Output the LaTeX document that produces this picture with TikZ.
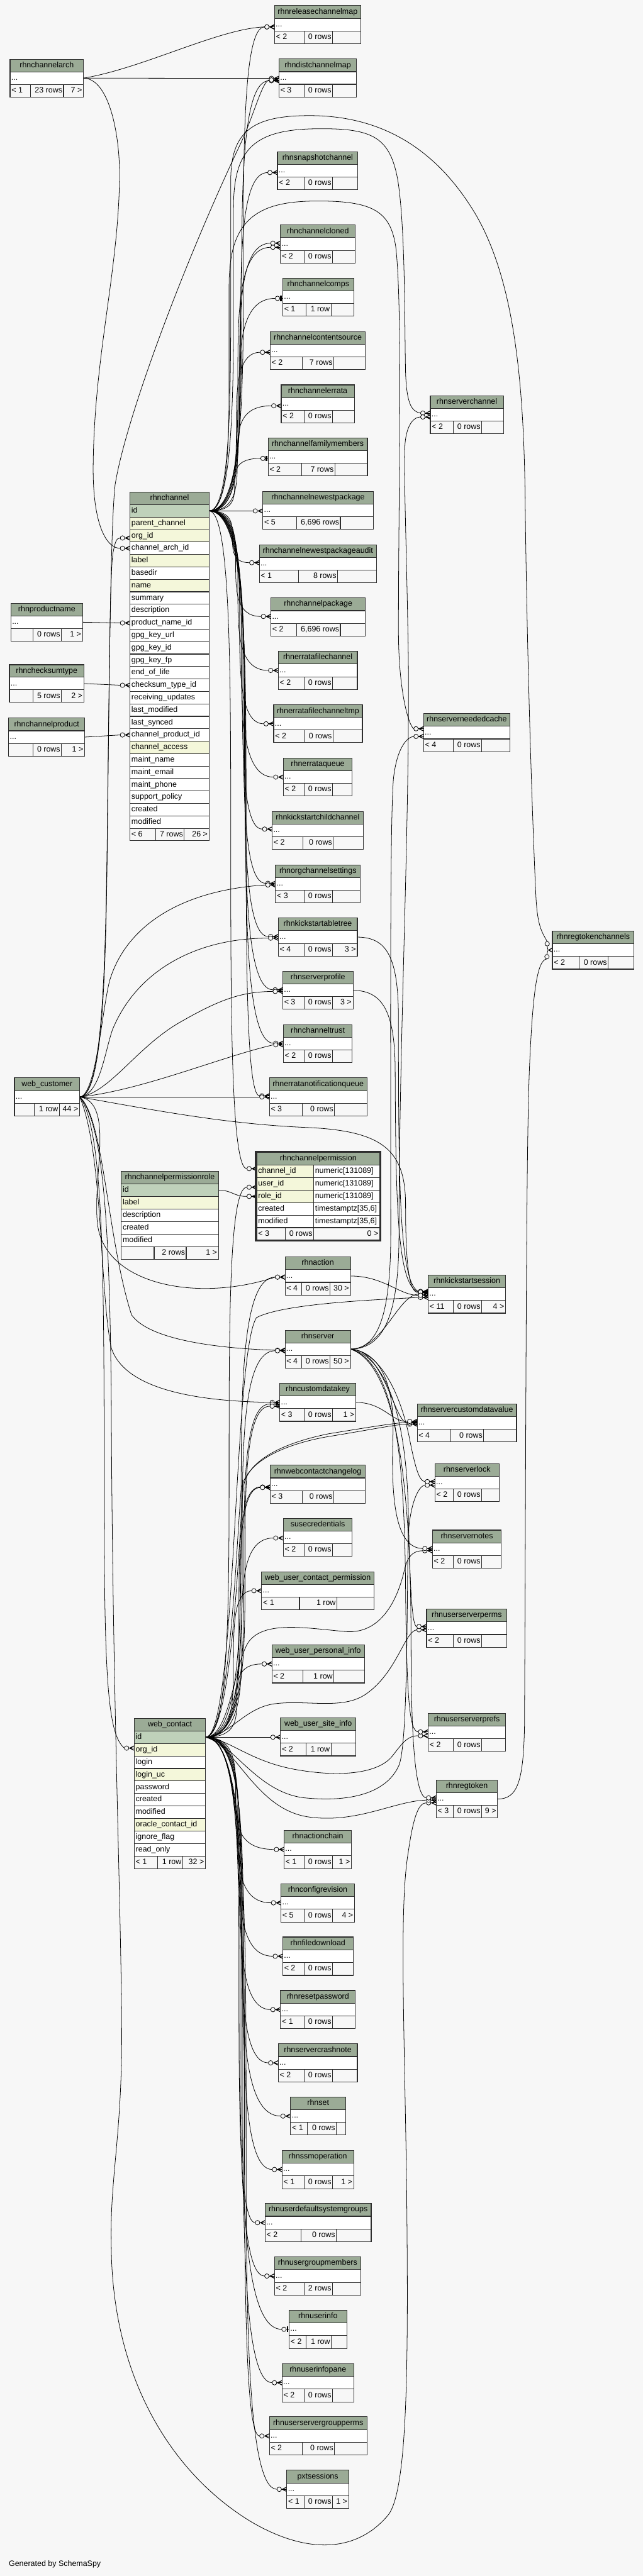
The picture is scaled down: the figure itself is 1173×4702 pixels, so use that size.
\documentclass[tikz,border=0pt]{standalone}
\usepackage{fontspec}
\setmainfont{Liberation Sans}
\usetikzlibrary{calc,fit}
\definecolor{bgc}{HTML}{F7F7F7}
\definecolor{hdrc}{HTML}{9BAB96}
\definecolor{pkc}{HTML}{BFD1BA}
\definecolor{ixc}{HTML}{F4F7DA}
\definecolor{tlc}{HTML}{2E2E2E}
\newcommand\tfont{\fontsize{14.3pt}{17pt}\selectfont}
\pgfdeclarelayer{bglayer}
\pgfdeclarelayer{edgelayer}
\pgfsetlayers{bglayer,edgelayer,main}
\tikzset{
  tline/.style={draw=tlc, line width=1.3pt},
  fk/.style={draw=black, line width=0.9pt},
  ttext/.style={font=\tfont, inner sep=0pt, text height=10.2pt, text depth=2.9pt},
  crowodot/.pic={
    \fill[black] (-9.8,0) -- (0,-4.8) -- (0,-3.3) -- (-6.5,0) -- (0,3.3) -- (0,4.8) -- cycle;
    \draw[black, line width=0.9pt] (-9.8,0) -- (0,0);
    \draw[black, line width=0.9pt, fill=bgc] (-13.8,0) circle[radius=4.1];
  },
  teeodot/.pic={
    \draw[black, line width=0.9pt] (-5.4,0) -- (0,0);
    \fill[black] (-4.6,-5) rectangle (-1.6,5);
    \draw[black, line width=0.9pt, fill=bgc] (-9.5,0) circle[radius=4.1];
  },
  crowtwo/.pic={
    \fill[black] (-8,0) -- (0,-4.8) -- (0,-3.3) -- (-5,0) -- (0,3.3) -- (0,4.8) -- cycle;
    \draw[black, line width=0.9pt] (-9.5,-7.4) -- (-8,0) -- (-10,7.9);
    \draw[black, line width=0.9pt, fill=bgc] (-9.5,-11.5) circle[radius=4.1];
    \draw[black, line width=0.9pt, fill=bgc] (-10,12) circle[radius=4.1];
  },
}
\newcommand\crowend[2]{\pic at ($(#1)+(0,#2)$) {crowodot};}
\newcommand\teeend[2]{\pic at ($(#1)+(0,#2)$) {teeodot};}
\newcommand\fkbus[4]{%
  \draw[fk] let \p1=(#1), \p2=($(#2)+(-18,#3)$) in
    (\p1) .. controls ({#4pt},\y1) and ({#4pt},{0.75*(\y1)+0.25*(\y2)}) .. ({#4pt},{0.5*(\y1)+0.5*(\y2)})
    .. controls ({#4pt},{0.25*(\y1)+0.75*(\y2)}) and ({#4pt},\y2) .. (\p2);
  \crowend{#2}{#3}}
\newcommand\fkbust[4]{%
  \draw[fk] let \p1=(#1), \p2=($(#2)+(-13.7,#3)$) in
    (\p1) .. controls ({#4pt},\y1) and ({#4pt},{0.75*(\y1)+0.25*(\y2)}) .. ({#4pt},{0.5*(\y1)+0.5*(\y2)})
    .. controls ({#4pt},{0.25*(\y1)+0.75*(\y2)}) and ({#4pt},\y2) .. (\p2);
  \teeend{#2}{#3}}
\newcommand\sumtab[9]{%
  \pgfmathsetmacro\tYa{#4}\pgfmathsetmacro\tYb{#6}%
  \pgfmathsetmacro\tYc{\tYa+(\tYb-\tYa)/3}%
  \pgfmathsetmacro\tYd{\tYa+2*(\tYb-\tYa)/3}%
  \pgfmathsetmacro\tYm{(\tYa+\tYb)/2}%
  \pgfmathsetmacro\tYh{(\tYa+\tYc)/2}%
  \pgfmathsetmacro\tYf{(\tYd+\tYb)/2}%
  \fill[hdrc] (#3,\tYa) rectangle (#5,\tYc);
  \fill[white] (#3,\tYc) rectangle (#5,\tYd);
  \draw[tline] (#3,\tYa) rectangle (#5,\tYb) (#3,\tYc) -- (#5,\tYc) (#3,\tYd) -- (#5,\tYd) (#7,\tYd) -- (#7,\tYb) (#8,\tYd) -- (#8,\tYb);
  \node[fit={(#3,\tYa) (#5,\tYb)}, inner sep=0pt] (#1) {};
  \node[ttext] at ({(#3+#5)/2},\tYh) {#2};
  \node[ttext, anchor=west] at ({#3+2},\tYm) {...};
  \coordinate (#1-in) at (#3,\tYm);
  \coordinate (#1-out) at (#5,\tYm);
  \def\tXa{#3}\def\tXb{#5}\def\tXc{#8}%
  \sumtabfoot#9}
\newcommand\sumtabfoot[3]{%
  \node[ttext, anchor=west] at ({\tXa+2.5},\tYf) {#1};
  \node[ttext, anchor=east] at ({\tXc-2},\tYf) {#2};
  \node[ttext, anchor=east] at ({\tXb-2.5},\tYf) {#3};}
\newcommand\permrow[4]{%
  \fill[fill=#2] (468.4,#1) rectangle (572.2,#1+22.8);
  \fill[white] (572.2,#1) rectangle (693,#1+22.8);
  \draw[tline] (468.4,#1) rectangle (572.2,#1+22.8) (572.2,#1) rectangle (693,#1+22.8);
  \node[ttext,anchor=west] at (470.9,#1+11.4) {#3};
  \node[ttext,anchor=west] at (574.7,#1+11.4) {#4};}
\begin{document}
\begin{tikzpicture}[x=1pt,y=-1pt]
\begin{pgfonlayer}{bglayer}
\fill[bgc] (0,0) rectangle (1173,4702);
\end{pgfonlayer}
\useasboundingbox (0,0) rectangle (1173,4702);

% ---------- summary tables ----------
\sumtab{relmap}{rhnreleasechannelmap}{500.7}{10.2}{658.4}{80.1}{554.7}{606.8}{{< 2}{0 rows}{}}
\sumtab{distmap}{rhndistchannelmap}{509.0}{107.7}{650.6}{177.0}{554.7}{606.8}{{< 3}{0 rows}{}}
\sumtab{snap}{rhnsnapshotchannel}{506.3}{277.6}{652.9}{346.4}{554.7}{606.8}{{< 2}{0 rows}{}}
\sumtab{cloned}{rhnchannelcloned}{511.8}{410.7}{648.3}{480.1}{554.7}{606.8}{{< 2}{0 rows}{}}
\sumtab{comps}{rhnchannelcomps}{515.9}{508.2}{645.5}{577.0}{558.8}{604.0}{{< 1}{1 row}{}}
\sumtab{csource}{rhnchannelcontentsource}{492.9}{605.6}{666.7}{674.5}{551.9}{609.1}{{< 2}{7 rows}{}}
\sumtab{errata}{rhnchannelerrata}{513.2}{702.5}{646.4}{771.9}{554.7}{606.8}{{< 2}{0 rows}{}}
\sumtab{famm}{rhnchannelfamilymembers}{489.2}{799.5}{670.4}{868.9}{550.5}{610.9}{{< 2}{7 rows}{}}
\sumtab{newest}{rhnchannelnewestpackage}{479.5}{896.9}{681.0}{966.3}{541.3}{621.1}{{< 5}{6,696 rows}{}}
\sumtab{audit}{rhnchannelnewestpackageaudit}{473.1}{994.4}{687.0}{1063.8}{545.0}{616.0}{{< 1}{8 rows}{}}
\sumtab{chpkg}{rhnchannelpackage}{494.3}{1091.3}{666.7}{1161.2}{541.3}{621.1}{{< 2}{6,696 rows}{}}
\sumtab{efc}{rhnerratafilechannel}{507.6}{1188.8}{652.0}{1258.7}{554.7}{606.8}{{< 2}{0 rows}{}}
\sumtab{efctmp}{rhnerratafilechanneltmp}{499.3}{1286.7}{661.2}{1355.6}{554.7}{607.7}{{< 2}{0 rows}{}}
\sumtab{eq}{rhnerrataqueue}{516.9}{1383.7}{642.7}{1453.1}{554.7}{606.8}{{< 2}{0 rows}{}}
\sumtab{kscc}{rhnkickstartchildchannel}{496.6}{1481.1}{662.6}{1550.5}{552.8}{608.2}{{< 2}{0 rows}{}}
\sumtab{ocs}{rhnorgchannelsettings}{502.6}{1578.6}{657.5}{1648.0}{554.7}{606.8}{{< 3}{0 rows}{}}
\sumtab{kstree}{rhnkickstartabletree}{507.6}{1675.5}{652.0}{1745.4}{554.7}{606.8}{{< 4}{0 rows}{3 >}}
\sumtab{sprof}{rhnserverprofile}{515.9}{1773.0}{644.1}{1842.3}{554.7}{606.8}{{< 3}{0 rows}{3 >}}
\sumtab{trust}{rhnchanneltrust}{516.9}{1870.4}{642.7}{1939.8}{554.7}{606.8}{{< 2}{0 rows}{}}
\sumtab{enq}{rhnerratanotificationqueue}{491.5}{1967.3}{669.5}{2037.2}{551.9}{610.5}{{< 3}{0 rows}{}}
\sumtab{action}{rhnaction}{520.1}{2294.4}{639.5}{2363.8}{550.5}{602.2}{{< 4}{0 rows}{30 >}}
\sumtab{server}{rhnserver}{520.1}{2428.1}{639.5}{2496.9}{550.5}{602.2}{{< 4}{0 rows}{50 >}}
\sumtab{cdkey}{rhncustomdatakey}{510.4}{2525.0}{649.2}{2594.4}{554.7}{606.8}{{< 3}{0 rows}{1 >}}
\sumtab{wccl}{rhnwebcontactchangelog}{492.9}{2674.5}{666.7}{2743.9}{551.9}{609.1}{{< 3}{0 rows}{}}
\sumtab{cred}{susecredentials}{516.9}{2771.9}{642.7}{2840.8}{554.7}{606.8}{{< 2}{0 rows}{}}
\sumtab{wucp}{web\_user\_contact\_permission}{477.2}{2868.9}{682.4}{2938.3}{546.4}{614.6}{{< 1}{1 row}{}}
\sumtab{wupi}{web\_user\_personal\_info}{496.1}{3002.5}{664.9}{3071.9}{552.8}{609.1}{{< 2}{1 row}{}}
\sumtab{wusi}{web\_user\_site\_info}{511.8}{3135.7}{649.2}{3205.1}{558.8}{604.0}{{< 2}{1 row}{}}
\sumtab{achain}{rhnactionchain}{518.2}{3340.8}{641.4}{3410.7}{554.7}{606.8}{{< 1}{0 rows}{1 >}}
\sumtab{cfgrev}{rhnconfigrevision}{512.7}{3438.3}{646.9}{3508.2}{554.7}{606.8}{{< 5}{0 rows}{4 >}}
\sumtab{fdl}{rhnfiledownload}{515.9}{3535.7}{644.1}{3605.6}{554.7}{606.8}{{< 2}{0 rows}{}}
\sumtab{rpw}{rhnresetpassword}{511.8}{3633.2}{648.3}{3703.1}{554.7}{606.8}{{< 1}{0 rows}{}}
\sumtab{scn}{rhnservercrashnote}{507.6}{3730.6}{652.0}{3800.0}{554.7}{606.8}{{< 2}{0 rows}{}}
\sumtab{rset}{rhnset}{530.2}{3828.1}{630.8}{3896.9}{561.1}{613.7}{{< 1}{0 rows}{}}
\sumtab{ssm}{rhnssmoperation}{514.6}{3925.0}{645.5}{3994.9}{554.7}{606.8}{{< 1}{0 rows}{1 >}}
\sumtab{udsg}{rhnuserdefaultsystemgroups}{483.7}{4021.9}{677.3}{4092.2}{549.1}{613.7}{{< 2}{0 rows}{}}
\sumtab{ugm}{rhnusergroupmembers}{500.7}{4119.5}{658.4}{4189.4}{554.7}{606.8}{{< 2}{2 rows}{}}
\sumtab{uinfo}{rhnuserinfo}{527.5}{4216.7}{632.6}{4286.5}{558.4}{604.5}{{< 2}{1 row}{}}
\sumtab{uipane}{rhnuserinfopane}{514.6}{4314.3}{645.5}{4384.1}{554.7}{606.8}{{< 2}{0 rows}{}}
\sumtab{usgp}{rhnuserservergroupperms}{491.5}{4411.4}{669.5}{4481.3}{551.9}{610.5}{{< 2}{0 rows}{}}
\sumtab{pxt}{pxtsessions}{523.3}{4509.0}{636.3}{4578.4}{554.7}{606.8}{{< 1}{0 rows}{1 >}}
\sumtab{schan}{rhnserverchannel}{785.2}{722.4}{918.5}{791.8}{826.7}{878.8}{{< 2}{0 rows}{}}
\sumtab{sncache}{rhnserverneededcache}{772.8}{1302.5}{930.5}{1371.9}{826.7}{878.8}{{< 4}{0 rows}{}}
\sumtab{rtc}{rhnregtokenchannels}{1007.9}{1699.5}{1156.9}{1768.9}{1056.8}{1109.4}{{< 2}{0 rows}{}}
\sumtab{kss}{rhnkickstartsession}{781.1}{2327.5}{922.6}{2396.9}{826.7}{878.8}{{< 11}{0 rows}{4 >}}
\sumtab{scdv}{rhnservercustomdatavalue}{761.2}{2562.8}{942.5}{2632.1}{822.6}{882.5}{{< 4}{0 rows}{}}
\sumtab{slock}{rhnserverlock}{793.5}{2671.9}{910.6}{2740.8}{826.7}{878.8}{{< 2}{0 rows}{}}
\sumtab{snotes}{rhnservernotes}{788.9}{2792.9}{914.8}{2862.2}{826.7}{878.8}{{< 2}{0 rows}{}}
\sumtab{usperms}{rhnuserserverperms}{778.3}{2937.2}{924.9}{3006.6}{826.7}{878.8}{{< 2}{0 rows}{}}
\sumtab{usprefs}{rhnuserserverprefs}{781.1}{3127.5}{922.6}{3196.9}{826.7}{878.8}{{< 2}{0 rows}{}}
\sumtab{regtok}{rhnregtoken}{795.8}{3249.0}{907.9}{3318.4}{826.7}{878.8}{{< 3}{0 rows}{9 >}}
\sumtab{arch}{rhnchannelarch}{18.4}{108.2}{152.3}{177.0}{55.9}{115.9}{{< 1}{23 rows}{7 >}}
\sumtab{pname}{rhnproductname}{19.9}{1101.0}{150.8}{1170.4}{60.1}{112.1}{{}{0 rows}{1 >}}
\sumtab{cksum}{rhnchecksumtype}{17.2}{1213.3}{153.1}{1282.1}{60.1}{112.1}{{}{5 rows}{2 >}}
\sumtab{cprod}{rhnchannelproduct}{15.7}{1310.7}{154.6}{1380.1}{60.1}{112.1}{{}{0 rows}{1 >}}
\sumtab{wcust}{web\_customer}{26.4}{1967.3}{145.4}{2037.2}{62.4}{108.3}{{}{1 row}{44 >}}

% ---------- rhnchannel ----------
\fill[hdrc] (237.2,898.5) rectangle (381.5,921.22);
\draw[tline] (237.2,898.5) rectangle (381.5,921.22);
\node[ttext] at (309.35,909.86) {rhnchannel};
\foreach \nm/\st [count=\i] in {id/pkc,parent\_channel/ixc,org\_id/ixc,channel\_arch\_id/white,label/ixc,basedir/white,name/ixc,summary/white,description/white,product\_name\_id/white,gpg\_key\_url/white,gpg\_key\_id/white,gpg\_key\_fp/white,end\_of\_life/white,checksum\_type\_id/white,receiving\_updates/white,last\_modified/white,last\_synced/white,channel\_product\_id/white,channel\_access/ixc,maint\_name/white,maint\_email/white,maint\_phone/white,support\_policy/white,created/white,modified/white}{
  \pgfmathsetmacro\ry{898.5+22.72*\i}
  \fill[fill=\st] (237.2,\ry) rectangle (381.5,\ry+22.72);
  \draw[tline] (237.2,\ry) rectangle (381.5,\ry+22.72);
  \node[ttext,anchor=west] at (239.7,\ry+11.36) {\nm};
}
\draw[tline] (237.2,1511.94) rectangle (284.3,1534.66) (284.3,1511.94) rectangle (336.0,1534.66) (336.0,1511.94) rectangle (381.5,1534.66);
\node[ttext,anchor=west] at (239.7,1523.3) {< 6};
\node[ttext,anchor=east] at (334.0,1523.3) {7 rows};
\node[ttext,anchor=east] at (379.0,1523.3) {26 >};
\draw[tline] (237.2,898.5) rectangle (381.5,1534.66);
\node[fit={(237.2,898.5) (381.5,1534.66)}, inner sep=0pt] (rhnchannel) {};
\coordinate (rhnchannel-out) at (381.5,932.6);
\coordinate (rhnchannel-org-in) at (237.2,978.0);
\coordinate (rhnchannel-arch-in) at (237.2,1000.8);
\coordinate (rhnchannel-prod-in) at (237.2,1137.1);
\coordinate (rhnchannel-cks-in) at (237.2,1250.7);
\coordinate (rhnchannel-cprod-in) at (237.2,1341.5);

% ---------- web_contact ----------
\fill[hdrc] (244.9,3136.7) rectangle (375.0,3159.53);
\draw[tline] (244.9,3136.7) rectangle (375.0,3159.53);
\node[ttext] at (309.95,3148.1) {web\_contact};
\foreach \nm/\st [count=\i] in {id/pkc,org\_id/ixc,login/white,login\_uc/ixc,password/white,created/white,modified/white,oracle\_contact\_id/ixc,ignore\_flag/white,read\_only/white}{
  \pgfmathsetmacro\ry{3136.7+22.83*\i}
  \fill[fill=\st] (244.9,\ry) rectangle (375.0,\ry+22.83);
  \draw[tline] (244.9,\ry) rectangle (375.0,\ry+22.83);
  \node[ttext,anchor=west] at (247.4,\ry+11.4) {\nm};
}
\draw[tline] (244.9,3387.83) rectangle (287.8,3410.66) (287.8,3387.83) rectangle (333.3,3410.66) (333.3,3387.83) rectangle (375.0,3410.66);
\node[ttext,anchor=west] at (247.4,3399.2) {< 1};
\node[ttext,anchor=east] at (331.3,3399.2) {1 row};
\node[ttext,anchor=east] at (372.5,3399.2) {32 >};
\draw[tline] (244.9,3136.7) rectangle (375.0,3410.66);
\node[fit={(244.9,3136.7) (375.0,3410.66)}, inner sep=0pt] (webcontact) {};
\coordinate (webcontact-out) at (375.0,3170.9);
\coordinate (webcontact-org-in) at (244.9,3193.8);

% ---------- rhnchannelpermissionrole ----------
\fill[hdrc] (221.2,2138.3) rectangle (398.7,2161.18);
\draw[tline] (221.2,2138.3) rectangle (398.7,2161.18);
\node[ttext] at (309.95,2149.7) {rhnchannelpermissionrole};
\foreach \nm/\st [count=\i] in {id/pkc,label/ixc,description/white,created/white,modified/white}{
  \pgfmathsetmacro\ry{2138.3+22.88*\i}
  \fill[fill=\st] (221.2,\ry) rectangle (398.7,\ry+22.88);
  \draw[tline] (221.2,\ry) rectangle (398.7,\ry+22.88);
  \node[ttext,anchor=west] at (223.7,\ry+11.44) {\nm};
}
\draw[tline] (221.2,2275.58) rectangle (281.2,2298.46) (281.2,2275.58) rectangle (339.8,2298.46) (339.8,2275.58) rectangle (398.7,2298.46);
\node[ttext,anchor=east] at (337.8,2287.0) {2 rows};
\node[ttext,anchor=east] at (396.2,2287.0) {1 >};
\draw[tline] (221.2,2138.3) rectangle (398.7,2298.46);
\node[fit={(221.2,2138.3) (398.7,2298.46)}, inner sep=0pt] (chperole) {};
\coordinate (chperole-out) at (398.7,2172.6);

% ---------- rhnchannelpermission ----------
\fill[hdrc] (468.4,2104) rectangle (693,2126.8);
\draw[tline] (468.4,2104) rectangle (693,2126.8);
\node[ttext] at (580.7,2115.4) {rhnchannelpermission};
\permrow{2126.8}{ixc}{channel\_id}{numeric[131089]}
\permrow{2149.6}{ixc}{user\_id}{numeric[131089]}
\permrow{2172.4}{ixc}{role\_id}{numeric[131089]}
\permrow{2195.2}{white}{created}{timestamptz[35,6]}
\permrow{2218.0}{white}{modified}{timestamptz[35,6]}
\draw[tline] (468.4,2240.8) rectangle (520.1,2263.6) (520.1,2240.8) rectangle (572.2,2263.6) (572.2,2240.8) rectangle (693,2263.6);
\node[ttext,anchor=west] at (470.9,2252.2) {< 3};
\node[ttext,anchor=east] at (570.2,2252.2) {0 rows};
\node[ttext,anchor=east] at (690.5,2252.2) {0 >};
\draw[tlc, line width=2.7pt] (466.1,2102.4) rectangle (694.2,2265.1);
\node[fit={(464.8,2101) (695.3,2266.3)}, inner sep=0pt] (chperm) {};
\coordinate (chperm-ch-in) at (468.4,2138.2);
\coordinate (chperm-user-in) at (468.4,2161.0);
\coordinate (chperm-role-in) at (468.4,2183.8);

\node[ttext,anchor=west] (gen) at (16,4680) {Generated by SchemaSpy};

% ---------- connectors ----------
\begin{pgfonlayer}{edgelayer}
% rhnchannelarch
\draw[fk] (arch-out) .. controls (260,125) and (400,52) .. ($(relmap-in)+(-18,4)$); \crowend{relmap-in}{4}
\draw[fk] (arch-out) -- ($(distmap-in)+(-18,0.7)$); \crowend{distmap-in}{0.7}
\draw[fk] (arch-out) .. controls (200,143) and (220,250) .. (218,330) .. controls (215,500) and (172,650) .. (170,850) .. controls (169,960) and (195,1000.8) .. ($(rhnchannel-arch-in)+(-18,0)$); \crowend{rhnchannel-arch-in}{0}
% small lookup tables
\draw[fk] (pname-out) -- ($(rhnchannel-prod-in)+(-18,0)$); \crowend{rhnchannel-prod-in}{0}
\draw[fk] (cksum-out) -- ($(rhnchannel-cks-in)+(-18,0)$); \crowend{rhnchannel-cks-in}{0}
\draw[fk] (cprod-out) -- ($(rhnchannel-cprod-in)+(-18,0)$); \crowend{rhnchannel-cprod-in}{0}

% rhnchannel children
\fkbus{rhnchannel-out}{relmap-in}{4}{444}
\fkbus{rhnchannel-out}{distmap-in}{5}{441}
\fkbus{rhnchannel-out}{snap-in}{3}{439}
\fkbus{rhnchannel-out}{cloned-in}{-1.5}{437}
\fkbus{rhnchannel-out}{cloned-in}{6}{434}
\fkbust{rhnchannel-out}{comps-in}{2}{436}
\fkbus{rhnchannel-out}{csource-in}{3}{431}
\fkbus{rhnchannel-out}{errata-in}{3.5}{433}
\fkbust{rhnchannel-out}{famm-in}{2.5}{428}
\fkbus{rhnchannel-out}{newest-in}{1}{420}
\fkbus{rhnchannel-out}{audit-in}{-2}{424}
\fkbus{rhnchannel-out}{chpkg-in}{-1}{430}
\fkbus{rhnchannel-out}{efc-in}{0}{434}
\fkbus{rhnchannel-out}{efctmp-in}{0}{437}
\fkbus{rhnchannel-out}{eq-in}{0}{440}
\fkbus{rhnchannel-out}{kscc-in}{-2.5}{442}
\fkbus{rhnchannel-out}{ocs-in}{-1}{444}
\fkbus{rhnchannel-out}{kstree-in}{-1}{446}
\fkbus{rhnchannel-out}{sprof-in}{-1}{447}
\fkbus{rhnchannel-out}{trust-in}{-1}{448}
\fkbus{rhnchannel-out}{enq-in}{-2}{449}
\fkbus{rhnchannel-out}{chperm-ch-in}{-5}{421}
\draw[fk] (rhnchannel-out) .. controls (418,932.6) and (421,750) .. (421,560) -- (421,330) .. controls (421,240) and (460,211) .. (565,211) .. controls (700,211) and (800,275) .. (870,395) .. controls (935,510) and (955,680) .. (958,900) .. controls (962,1250) and (974,1560) .. (978,1640) .. controls (981,1690) and (988,1700) .. ($(rtc-in)+(-9.5,-15.6)$);
\draw[fk] (rhnchannel-out) .. controls (420,932.6) and (426,760) .. (426,580) -- (426,380) .. controls (426,270) and (465,236) .. (580,235) .. controls (680,234) and (712,250) .. (726,330) .. controls (740,420) and (738,600) .. (740,680) .. controls (742,740) and (752,751) .. ($(schan-in)+(-18,-3)$); \crowend{schan-in}{-3}
\draw[fk] (rhnchannel-out) .. controls (416,932.6) and (418,800) .. (418,700) -- (418,520) .. controls (418,400) and (470,368) .. (574,367) .. controls (680,366) and (712,385) .. (722,450) .. controls (735,560) and (727,900) .. (727,1150) .. controls (727,1260) and (745,1323) .. ($(sncache-in)+(-18,-7)$); \crowend{sncache-in}{-7}

% web_customer children
\draw[fk] (wcust-out) .. controls (185,2002) and (192,1800) .. (195,1600) .. controls (199,1300) and (200,1050) .. (206,1010) .. controls (210,990) and (212,982) .. ($(rhnchannel-org-in)+(-18,4)$); \crowend{rhnchannel-org-in}{4}
\draw[fk] (wcust-out) .. controls (188,2002) and (193,1750) .. (196,1500) .. controls (200,1150) and (203,950) .. (210,885) .. controls (230,760) and (340,470) .. (440,260) .. controls (465,205) and (478,150) .. ($(distmap-in)+(-18,3.5)$); \crowend{distmap-in}{3.5}
\draw[fk] (wcust-out) .. controls (175,2000) and (185,1850) .. (200,1790) .. controls (230,1690) and (330,1625) .. ($(ocs-in)+(-18,2)$); \crowend{ocs-in}{2}
\draw[fk] (wcust-out) .. controls (182,1998) and (190,1925) .. (205,1880) .. controls (250,1770) and (360,1712) .. ($(kstree-in)+(-18,2)$); \crowend{kstree-in}{2}
\draw[fk] (wcust-out) .. controls (200,1995) and (250,1910) .. (330,1865) .. controls (400,1825) and (440,1810) .. ($(sprof-in)+(-18,2)$); \crowend{sprof-in}{2}
\draw[fk] (wcust-out) .. controls (260,1990) and (400,1930) .. ($(trust-in)+(-18,2)$); \crowend{trust-in}{2}
\draw[fk] (wcust-out) -- ($(enq-in)+(-18,0)$); \crowend{enq-in}{0}
\draw[fk] (wcust-out) .. controls (300,2030) and (420,2052) .. (560,2058) .. controls (700,2064) and (740,2100) .. (740,2200) .. controls (740,2320) and (748,2359) .. ($(kss-in)+(-18,-3)$); \crowend{kss-in}{-3}
\draw[fk] (wcust-out) .. controls (210,2012) and (168,2150) .. (178,2235) .. controls (192,2345) and (360,2378) .. ($(action-in)+(-18,2)$); \crowend{action-in}{2}
\draw[fk] (wcust-out) .. controls (190,2040) and (195,2260) .. (240,2400) .. controls (275,2450) and (420,2462) .. ($(server-in)+(-18,2)$); \crowend{server-in}{2}
\draw[fk] (wcust-out) .. controls (188,2100) and (182,2360) .. (203,2460) .. controls (230,2545) and (390,2558) .. ($(cdkey-in)+(-18,0)$); \crowend{cdkey-in}{0}
\draw[fk] (wcust-out) .. controls (188,2060) and (190,2300) .. (190,2700) .. controls (190,3050) and (195,3165) .. ($(webcontact-org-in)+(-18,-3)$); \crowend{webcontact-org-in}{-3}
\draw[fk] (wcust-out) .. controls (190,2050) and (200,2250) .. (203,2550) .. controls (205,3100) and (222,3500) .. (222,3720) .. controls (222,3900) and (200,3980) .. (203,4100) .. controls (205,4350) and (320,4520) .. (460,4604) .. controls (560,4662) and (650,4660) .. (708,4591) .. controls (745,4545) and (745,4300) .. (742,4000) .. controls (738,3700) and (728,3480) .. (745,3380) .. controls (755,3310) and (765,3291) .. ($(regtok-in)+(-18,7)$); \crowend{regtok-in}{7}

% web_contact children
\fkbus{webcontact-out}{chperm-user-in}{6}{418}
\fkbus{webcontact-out}{action-in}{2}{440}
\fkbus{webcontact-out}{server-in}{3}{442}
\fkbus{webcontact-out}{cdkey-in}{3}{445}
\fkbus{webcontact-out}{cdkey-in}{7}{447}
\fkbus{webcontact-out}{wccl-in}{5}{436}
\fkbus{webcontact-out}{wccl-in}{6}{438}
\fkbus{webcontact-out}{cred-in}{1}{441}
\fkbus{webcontact-out}{wucp-in}{0}{426}
\fkbus{webcontact-out}{wupi-in}{0}{432}
\draw[fk] (webcontact-out) -- ($(wusi-in)+(-18,0.5)$); \crowend{wusi-in}{0.5}
\fkbus{webcontact-out}{achain-in}{0}{430}
\fkbus{webcontact-out}{cfgrev-in}{0}{433}
\fkbus{webcontact-out}{fdl-in}{0}{436}
\fkbus{webcontact-out}{rpw-in}{0}{438}
\fkbus{webcontact-out}{scn-in}{0}{440}
\fkbus{webcontact-out}{rset-in}{0}{442}
\fkbus{webcontact-out}{ssm-in}{0}{444}
\fkbus{webcontact-out}{udsg-in}{0}{436}
\fkbus{webcontact-out}{ugm-in}{0}{438}
\fkbust{webcontact-out}{uinfo-in}{0}{441}
\fkbus{webcontact-out}{uipane-in}{0}{443}
\fkbus{webcontact-out}{usgp-in}{0}{446}
\fkbus{webcontact-out}{pxt-in}{0}{449}
\draw[fk] (webcontact-out) .. controls (420,3171) and (432,2800) .. (440,2720) .. controls (448,2660) and (540,2632) .. (600,2622) .. controls (680,2609) and (722,2600) .. ($(scdv-in)+(-18,2)$); \crowend{scdv-in}{2}
\draw[fk] (webcontact-out) .. controls (424,3171) and (436,2800) .. (444,2715) .. controls (452,2655) and (545,2628) .. (600,2617) .. controls (680,2604) and (722,2597) .. ($(scdv-in)+(-18,-1)$); \crowend{scdv-in}{-1}
\draw[fk] (webcontact-out) .. controls (420,3171) and (428,3030) .. (455,2995) .. controls (485,2958) and (560,2972) .. (630,2978) .. controls (700,2984) and (728,2910) .. (738,2865) .. controls (745,2835) and (758,2831) .. ($(snotes-in)+(-18,3)$); \crowend{snotes-in}{3}
\draw[fk] (webcontact-out) .. controls (420,3168) and (445,3118) .. (500,3110) .. controls (560,3102) and (625,3122) .. (668,3092) .. controls (725,3052) and (738,2978) .. ($(usperms-in)+(-18,3)$); \crowend{usperms-in}{3}
\draw[fk] (webcontact-out) .. controls (420,3175) and (455,3215) .. (540,3230) .. controls (625,3245) and (692,3236) .. (716,3205) .. controls (732,3185) and (742,3168) .. ($(usprefs-in)+(-18,6)$); \crowend{usprefs-in}{6}
\draw[fk] (webcontact-out) .. controls (425,3180) and (470,3275) .. (560,3282) .. controls (650,3290) and (708,3268) .. (728,3222) .. controls (745,3180) and (742,2900) .. (745,2800) .. controls (748,2750) and (762,2712) .. ($(slock-in)+(-18,4.5)$); \crowend{slock-in}{4.5}
\draw[fk] (webcontact-out) .. controls (430,3185) and (465,3300) .. (560,3316) .. controls (650,3330) and (720,3287) .. ($(regtok-in)+(-18,2)$); \crowend{regtok-in}{2}
\draw[fk] (webcontact-out) .. controls (432,3171) and (425,2470) .. (468,2405) .. controls (520,2378) and (700,2372) .. ($(kss-in)+(-18,6)$); \crowend{kss-in}{6}

% rhnserver children
\draw[fk] (server-out) .. controls (700,2462) and (725,2365) .. ($(kss-in)+(-18,0)$); \crowend{kss-in}{0}
\draw[fk] (server-out) .. controls (690,2462) and (713,2400) .. (713,2250) .. controls (713,1900) and (711,1500) .. (718,1420) .. controls (725,1360) and (745,1345) .. ($(sncache-in)+(-18,7)$); \crowend{sncache-in}{7}
\draw[fk] (server-out) .. controls (705,2462) and (728,2390) .. (728,2250) .. controls (728,1900) and (748,1500) .. (745,1200) .. controls (742,1000) and (736,860) .. (739,810) .. controls (742,775) and (755,761) .. ($(schan-in)+(-18,4)$); \crowend{schan-in}{4}
\draw[fk] (server-out) .. controls (700,2462) and (720,2597) .. ($(scdv-in)+(-18,0)$); \crowend{scdv-in}{0}
\draw[fk] (server-out) .. controls (700,2468) and (735,2560) .. (748,2630) .. controls (758,2680) and (765,2704) .. ($(slock-in)+(-18,-2)$); \crowend{slock-in}{-2}
\draw[fk] (server-out) .. controls (700,2468) and (720,2540) .. (717,2620) .. controls (713,2740) and (722,2825) .. ($(snotes-in)+(-18,-1)$); \crowend{snotes-in}{-1}
\draw[fk] (server-out) .. controls (710,2478) and (742,2600) .. (745,2760) .. controls (748,2900) and (752,2969) .. ($(usperms-in)+(-18,-3)$); \crowend{usperms-in}{-3}
\draw[fk] (server-out) .. controls (720,2488) and (738,2650) .. (740,2900) .. controls (742,3100) and (747,3161) .. ($(usprefs-in)+(-18,-1)$); \crowend{usprefs-in}{-1}
\draw[fk] (server-out) .. controls (722,2490) and (750,2700) .. (750,3000) .. controls (750,3200) and (760,3280) .. ($(regtok-in)+(-18,-2)$); \crowend{regtok-in}{-2}

% others
\draw[fk] (cdkey-out) .. controls (700,2560) and (715,2596) .. ($(scdv-in)+(-18,-3)$); \crowend{scdv-in}{-3}
\draw[fk] (kstree-out) .. controls (705,1711) and (727,1745) .. (727,1860) .. controls (727,2150) and (728,2340) .. ($(kss-in)+(-18,-5)$); \crowend{kss-in}{-5}
\draw[fk] (sprof-out) .. controls (700,1808) and (720,1850) .. (721,1950) .. controls (722,2200) and (725,2345) .. ($(kss-in)+(-18,-4)$); \crowend{kss-in}{-4}
\draw[fk] (action-out) .. controls (700,2329) and (730,2365) .. ($(kss-in)+(-18,2)$); \crowend{kss-in}{2}
\draw[fk] (regtok-out) .. controls (945,3284) and (955,3250) .. (957,3150) .. controls (960,2500) and (960,2100) .. (966,1950) .. controls (972,1810) and (980,1752) .. ($(rtc-in)+(-10,16.1)$);
\pic at (rtc-in) {crowtwo};
\draw[fk] (chperole-out) .. controls (425,2172.6) and (425,2183.8) .. ($(chperm-role-in)+(-18,0)$); \crowend{chperm-role-in}{0}
\end{pgfonlayer}
\end{tikzpicture}
\end{document}
